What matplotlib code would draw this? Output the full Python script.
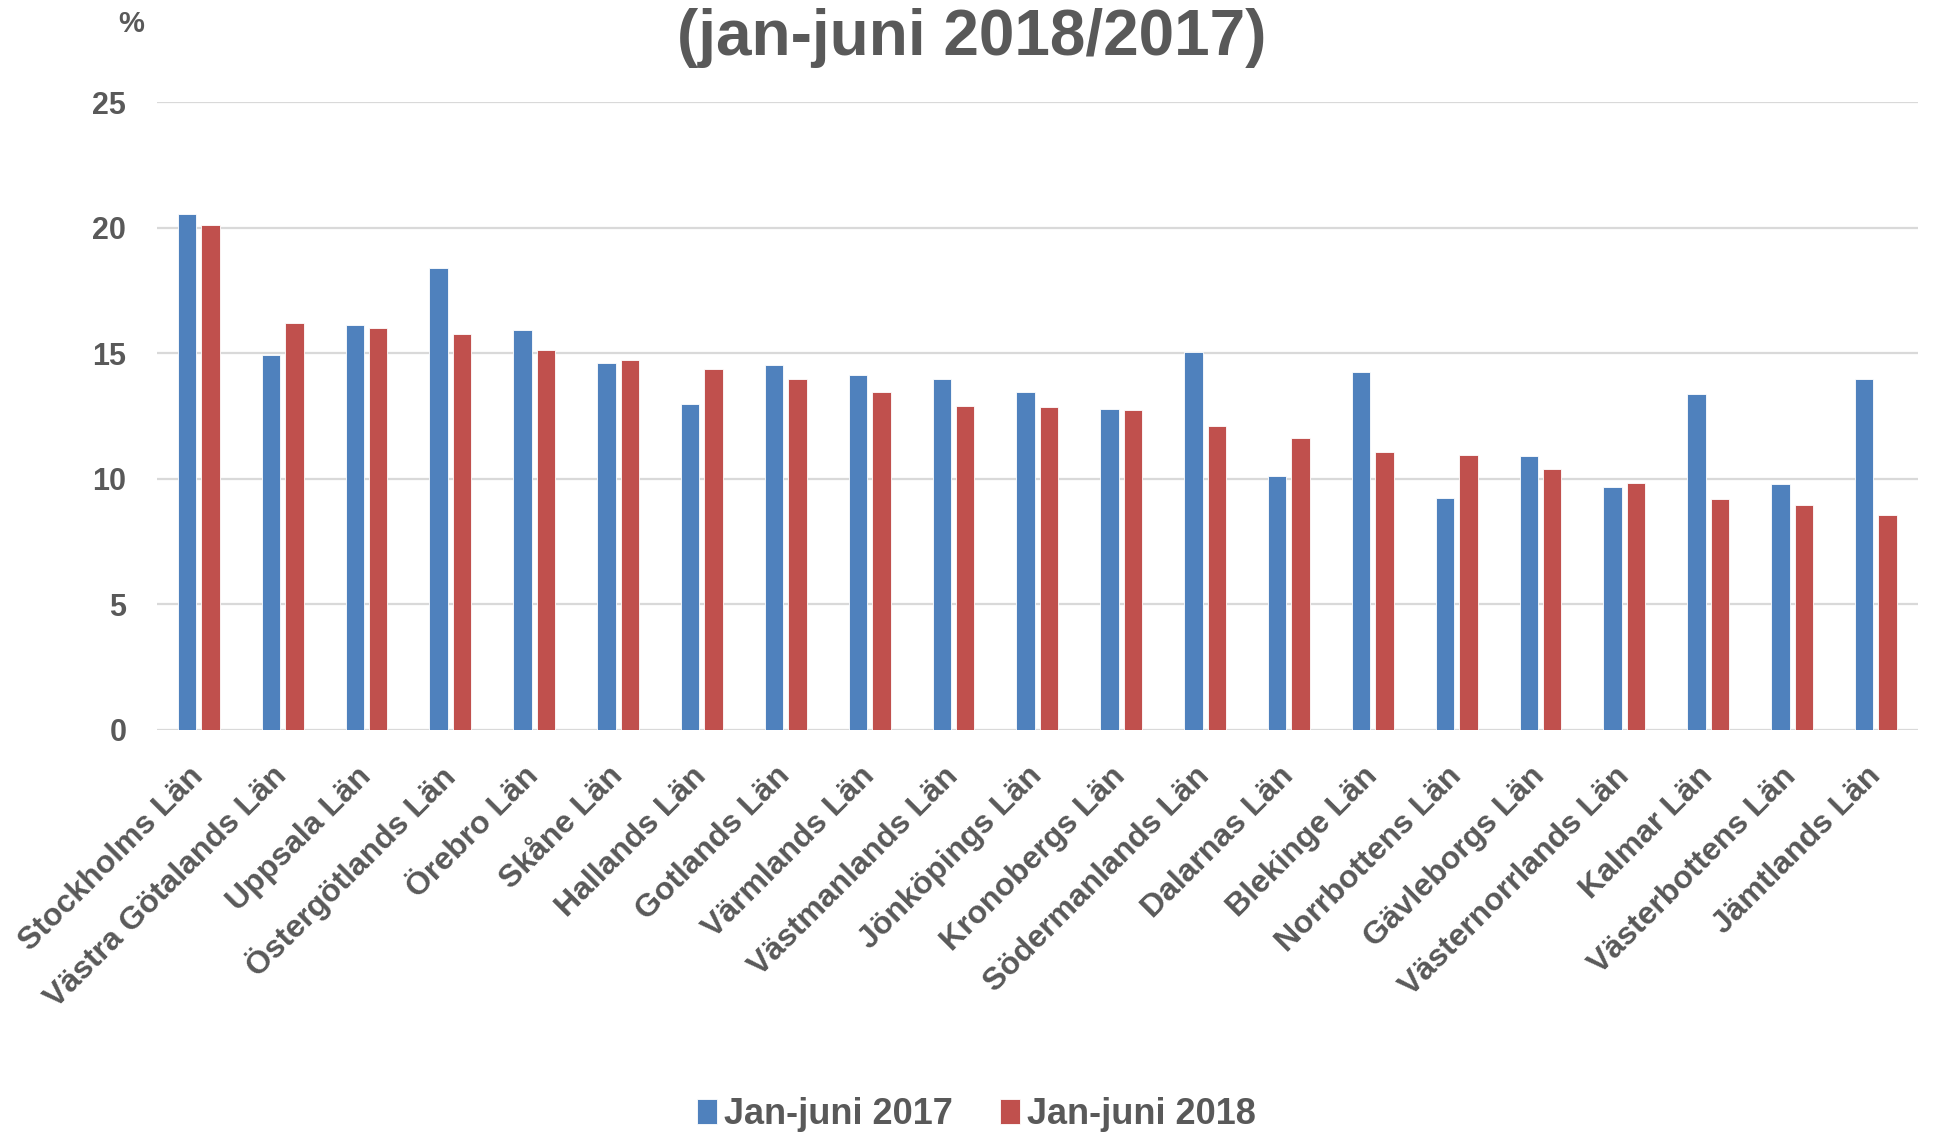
import numpy as np
import matplotlib.pyplot as plt

# data
lan = ["Stockholms Län", "Västra Götalands Län", "Uppsala Län", "Östergötlands Län",
       "Örebro Län", "Skåne Län", "Hallands Län", "Gotlands Län", "Värmlands Län",
       "Västmanlands Län", "Jönköpings Län", "Kronobergs Län", "Södermanlands Län",
       "Dalarnas Län", "Blekinge Län", "Norrbottens Län", "Gävleborgs Län",
       "Västernorrlands Län", "Kalmar Län", "Västerbottens Län", "Jämtlands Län"]
jan_juni_2017 = [20.54, 14.93, 16.14, 18.40, 15.92, 14.62, 12.97, 14.54, 14.12, 13.99,
                 13.44, 12.79, 15.03, 10.10, 14.25, 9.24, 10.91, 9.66, 13.37, 9.81, 13.99]
jan_juni_2018 = [20.09, 16.21, 16.00, 15.77, 15.14, 14.71, 14.37, 13.99, 13.44, 12.91,
                 12.85, 12.74, 12.12, 11.63, 11.06, 10.94, 10.41, 9.82, 9.21, 8.96, 8.56]
yticks = [0, 5, 10, 15, 20, 25]

grey = "#595959"
plt.rcParams["font.family"] = ["Liberation Sans", "DejaVu Sans"]
plt.rcParams["font.weight"] = "bold"

fig = plt.figure(figsize=(19.49, 11.36), dpi=100)
ax = fig.add_axes([0.0805, 0.3574, 0.9035, 0.5528])

x = np.arange(len(lan))
w = 0.22
ax.bar(x - 0.14, jan_juni_2017, w, color="#4F81BD", edgecolor="white", linewidth=0.6,
       label="Jan-juni 2017", zorder=3)
ax.bar(x + 0.14, jan_juni_2018, w, color="#C0504D", edgecolor="white", linewidth=0.6,
       label="Jan-juni 2018", zorder=3)

ax.set_xlim(-0.5, len(lan) - 0.5)
ax.set_ylim(0, 25)
ax.set_yticks(yticks)
ax.set_yticklabels([str(t) for t in yticks], fontsize=22, fontweight="bold", color=grey)
ax.grid(axis="y", color="#D9D9D9", linewidth=1.6, zorder=0)
for s in ["top", "right", "left", "bottom"]:
    ax.spines[s].set_visible(False)
ax.tick_params(axis="y", length=0, pad=22)
ax.tick_params(axis="x", length=0, pad=30)
ax.set_xticks(x)
ax.set_xticklabels(lan, rotation=45, ha="right", va="center", rotation_mode="anchor",
                   fontsize=23, fontweight="bold", color=grey)

fig.text(0.4987, 0.9516, "(jan-juni 2018/2017)", ha="center", va="baseline",
         fontsize=46, fontweight="bold", color=grey)
fig.text(0.0675, 0.979, "%", ha="center", va="center", fontsize=21,
         fontweight="bold", color=grey)

leg = fig.legend(loc="center", bbox_to_anchor=(0.501, 0.0185), ncol=2, frameon=False,
                 prop={"size": 26, "weight": "bold"}, handlelength=0.55,
                 handleheight=0.7, handletextpad=0.2, columnspacing=1.3)
for t in leg.get_texts():
    t.set_color(grey)

fig.savefig("out.png", dpi=100)
